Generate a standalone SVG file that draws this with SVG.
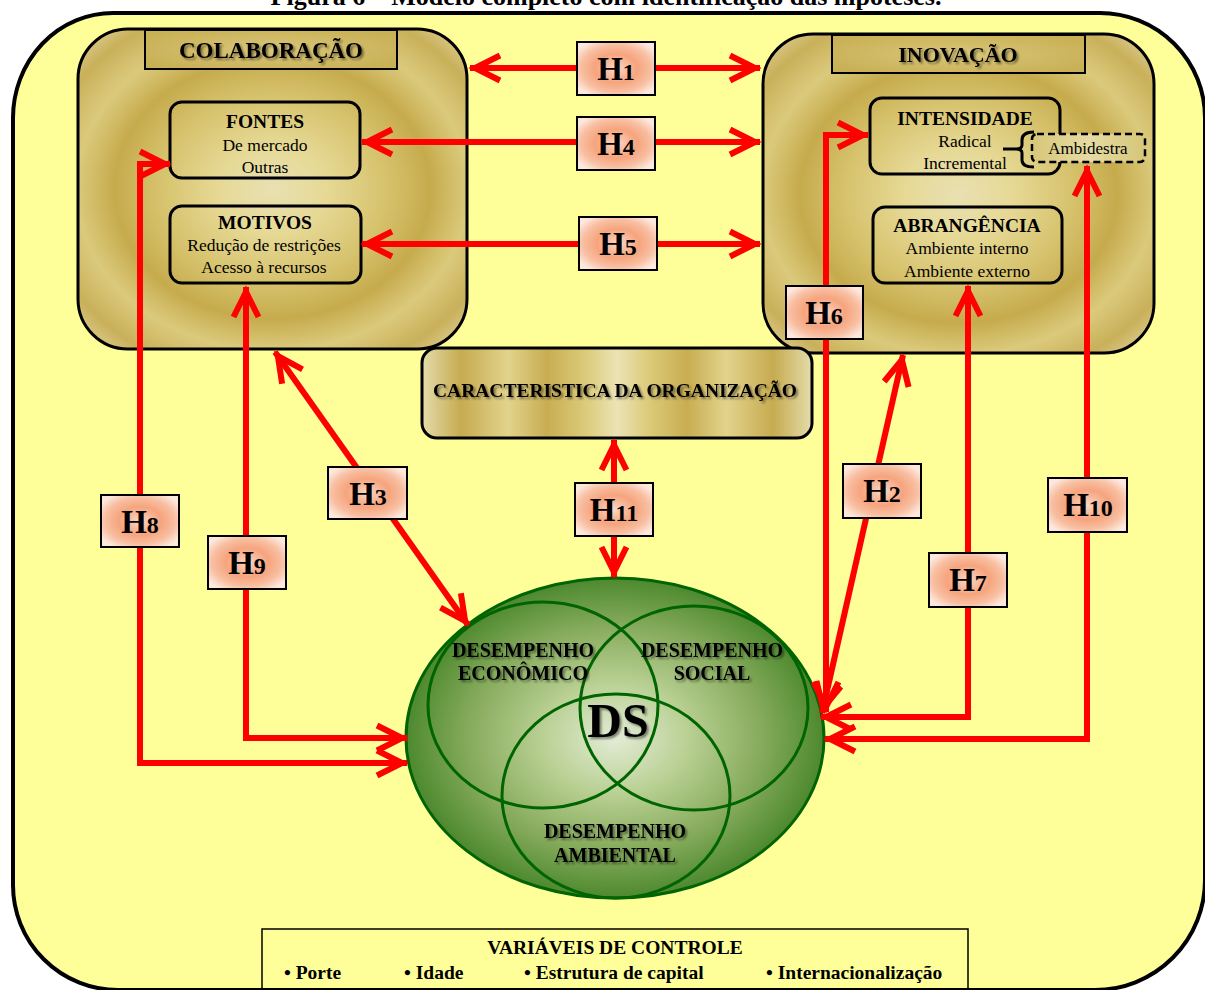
<svg xmlns="http://www.w3.org/2000/svg" width="1205" height="990" viewBox="0 0 1205 990">
<defs>
<style>
.t{font-family:'Liberation Serif','Times New Roman',serif;fill:#000;text-anchor:middle}
.b{font-weight:bold}
.sh{filter:url(#ts)}
.big{fill:url(#gold);stroke:#000;stroke-width:3}
.tab{fill:url(#tabg);stroke:#000;stroke-width:2}
.inner{fill:none;stroke:#000;stroke-width:3}
.conn{fill:none;stroke:#ff0000;stroke-width:6;marker-start:url(#ah);marker-end:url(#ah)}
.hl rect{fill:url(#hg);stroke:#000;stroke-width:2}
.hl text{font-family:'Liberation Serif','Times New Roman',serif;font-weight:bold;text-anchor:middle;fill:#000}
.venn{fill:none;stroke:#006400;stroke-width:3}
</style>
<filter id="ts" x="-10%" y="-40%" width="125%" height="190%">
<feDropShadow dx="2" dy="2" stdDeviation="1.3" flood-color="#000" flood-opacity="0.45"/>
</filter>
<radialGradient id="gold" cx="0.5" cy="0.5" r="0.7">
<stop offset="0" stop-color="#e9e0b2"/>
<stop offset="0.2" stop-color="#e6d995"/>
<stop offset="0.42" stop-color="#d6c26c"/>
<stop offset="0.58" stop-color="#c6ab4d"/>
<stop offset="0.72" stop-color="#dbca7c"/>
<stop offset="0.86" stop-color="#c9b05a"/>
<stop offset="1" stop-color="#e3d8a8"/>
</radialGradient>
<radialGradient id="tabg" cx="0.5" cy="0.5" r="0.6">
<stop offset="0" stop-color="#d9c67a"/>
<stop offset="1" stop-color="#c8b055"/>
</radialGradient>
<linearGradient id="carg" x1="0" y1="0" x2="1" y2="0">
<stop offset="0" stop-color="#e4dcab"/>
<stop offset="0.1" stop-color="#c6ab50"/>
<stop offset="0.22" stop-color="#e2d38c"/>
<stop offset="0.32" stop-color="#c8ad52"/>
<stop offset="0.42" stop-color="#dccb7a"/>
<stop offset="0.5" stop-color="#ebe3b5"/>
<stop offset="0.58" stop-color="#dccb7a"/>
<stop offset="0.68" stop-color="#c8ad52"/>
<stop offset="0.78" stop-color="#e2d38c"/>
<stop offset="0.9" stop-color="#c6ab50"/>
<stop offset="1" stop-color="#e4dcab"/>
</linearGradient>
<linearGradient id="ambg" x1="0" y1="0" x2="1" y2="0">
<stop offset="0" stop-color="#d6c678"/>
<stop offset="0.5" stop-color="#e6dba4"/>
<stop offset="1" stop-color="#d6c678"/>
</linearGradient>
<radialGradient id="green" cx="0.5" cy="0.5" r="0.5">
<stop offset="0" stop-color="#e3ecd6"/>
<stop offset="0.35" stop-color="#b9d093"/>
<stop offset="0.7" stop-color="#86ab5c"/>
<stop offset="1" stop-color="#4d892e"/>
</radialGradient>
<radialGradient id="hg" cx="0.5" cy="0.5" r="0.6">
<stop offset="0" stop-color="#fbd7c6"/>
<stop offset="0.45" stop-color="#f6a47d"/>
<stop offset="0.75" stop-color="#f8bfa2"/>
<stop offset="1" stop-color="#fde8de"/>
</radialGradient>
<marker id="ah" markerUnits="userSpaceOnUse" viewBox="-34 -18 40 36" refX="0" refY="0" markerWidth="40" markerHeight="36" orient="auto-start-reverse" overflow="visible">
<path d="M-30,-12.5 L-5,0 L-30,12.5" fill="none" stroke="#ff0000" stroke-width="6" stroke-linejoin="miter"/>
</marker>
</defs>

<text class="t b" x="606" y="5" font-size="26">Figura 6 – Modelo completo com identificação das hipóteses.</text>

<g id="fundo">
<path d="M113,13 H1100 A105,105 0 0 1 1205,118 V880 A110,110 0 0 1 1095,990 H118 A105,105 0 0 1 13,885 V118 A100,105 0 0 1 113,13 Z" fill="#ffff99" stroke="#000" stroke-width="4"/>
</g>

<g id="colaboracao">
<rect class="big" x="78" y="29" width="389" height="320" rx="50" ry="50"/>
<rect class="tab" x="145" y="30" width="252" height="39"/>
<text class="t b sh" x="271" y="58" font-size="23">COLABORAÇÃO</text>
</g>

<g id="fontes">
<rect class="inner" x="170" y="102" width="190" height="76" rx="12"/>
<text class="t b" x="265" y="128" font-size="19.5">FONTES</text>
<text class="t" x="265" y="151" font-size="17.5">De mercado</text>
<text class="t" x="265" y="173" font-size="17.5">Outras</text>
</g>

<g id="motivos">
<rect class="inner" x="170" y="206" width="191" height="77" rx="12"/>
<text class="t b" x="265" y="229" font-size="19.5">MOTIVOS</text>
<text class="t" x="264" y="251" font-size="17.5">Redução de restrições</text>
<text class="t" x="264" y="273" font-size="17.5">Acesso à recursos</text>
</g>

<g id="inovacao">
<rect class="big" x="763" y="34" width="391" height="319" rx="50" ry="50"/>
<rect class="tab" x="832" y="35" width="253" height="38"/>
<text class="t b sh" x="958" y="62" font-size="22">INOVAÇÃO</text>
</g>

<g id="intensidade">
<rect class="inner" x="870" y="98" width="190" height="76" rx="12"/>
<text class="t b" x="965" y="125" font-size="19.5">INTENSIDADE</text>
<text class="t" x="965" y="147" font-size="17.5">Radical</text>
<text class="t" x="965" y="169" font-size="17.5">Incremental</text>
</g>

<g id="ambidestra">
<rect x="1032" y="134" width="113" height="28" rx="5" fill="url(#ambg)" stroke="#000" stroke-width="2.5" stroke-dasharray="7 4"/>
<path d="M1003,149 H1016 M1034,132 Q1022,132 1022,140 L1022,145 Q1022,149 1016,149 Q1022,149 1022,153 L1022,160 Q1022,167 1034,167" fill="none" stroke="#000" stroke-width="3"/>
<text class="t" x="1088" y="154" font-size="17">Ambidestra</text>
</g>

<g id="abrangencia">
<rect class="inner" x="873" y="207" width="189" height="76" rx="12"/>
<text class="t b" x="967" y="232" font-size="19.5">ABRANGÊNCIA</text>
<text class="t" x="967" y="254" font-size="17.5">Ambiente interno</text>
<text class="t" x="967" y="277" font-size="17.5">Ambiente externo</text>
</g>

<g id="caracteristica">
<rect x="422" y="348" width="390" height="90" rx="15" fill="url(#carg)" stroke="#000" stroke-width="3"/>
<text class="t b sh" x="615" y="397" font-size="19.5">CARACTERISTICA DA ORGANIZAÇÃO</text>
</g>

<g id="ds">
<ellipse cx="615" cy="738" rx="209" ry="160" fill="url(#green)" stroke="#006400" stroke-width="3"/>
<ellipse class="venn" cx="543" cy="705" rx="115" ry="103"/>
<ellipse class="venn" cx="694" cy="708" rx="114" ry="102"/>
<ellipse class="venn" cx="616" cy="796" rx="114" ry="102"/>
<text class="t b sh" x="523" y="657" font-size="20">DESEMPENHO</text>
<text class="t b sh" x="523" y="680" font-size="20">ECONÔMICO</text>
<text class="t b sh" x="712" y="657" font-size="20">DESEMPENHO</text>
<text class="t b sh" x="712" y="680" font-size="20">SOCIAL</text>
<text class="t b sh" x="618" y="737" font-size="48">DS</text>
<text class="t b sh" x="615" y="838" font-size="20">DESEMPENHO</text>
<text class="t b sh" x="615" y="862" font-size="20">AMBIENTAL</text>
</g>

<g id="controle">
<rect x="262" y="929" width="706" height="70" fill="none" stroke="#000" stroke-width="1.5"/>
<text class="t b" x="615" y="954" font-size="19.5">VARIÁVEIS DE CONTROLE</text>
<text class="t b" x="284" y="979" font-size="19.5" text-anchor="start" style="text-anchor:start">• Porte</text>
<text class="t b" x="404" y="979" font-size="19.5" style="text-anchor:start">• Idade</text>
<text class="t b" x="524" y="979" font-size="19.5" style="text-anchor:start">• Estrutura de capital</text>
<text class="t b" x="766" y="979" font-size="19.5" style="text-anchor:start">• Internacionalização</text>
</g>

<g id="connectors">
<path class="conn" d="M470,68 H760"/>
<path class="conn" d="M362,142 H760"/>
<path class="conn" d="M362,244 H760"/>
<path class="conn" d="M275,352 L468,625"/>
<path class="conn" d="M903,355 L822,713"/>
<path class="conn" d="M614,440 V577"/>
<path class="conn" d="M170,164 H140 V763 H407"/>
<path class="conn" d="M246,287 V738 H407"/>
<path class="conn" d="M868,135 H826 V712"/>
<path class="conn" d="M968,286 V717 H821"/>
<path class="conn" d="M1087,166 V739 H825"/>
</g>

<g id="labels">
<g class="hl" id="h1"><rect x="577" y="42" width="78" height="53"/><text x="616" y="80"><tspan font-size="33">H</tspan><tspan font-size="24">1</tspan></text></g>
<g class="hl" id="h4"><rect x="577" y="117" width="78" height="53"/><text x="616" y="155"><tspan font-size="33">H</tspan><tspan font-size="24">4</tspan></text></g>
<g class="hl" id="h5"><rect x="579" y="217" width="78" height="53"/><text x="618" y="255"><tspan font-size="33">H</tspan><tspan font-size="24">5</tspan></text></g>
<g class="hl" id="h6"><rect x="786" y="286" width="77" height="53"/><text x="824" y="324"><tspan font-size="33">H</tspan><tspan font-size="24">6</tspan></text></g>
<g class="hl" id="h2"><rect x="843" y="464" width="78" height="54"/><text x="882" y="502"><tspan font-size="33">H</tspan><tspan font-size="24">2</tspan></text></g>
<g class="hl" id="h7"><rect x="929" y="553" width="78" height="54"/><text x="968" y="591"><tspan font-size="33">H</tspan><tspan font-size="24">7</tspan></text></g>
<g class="hl" id="h10"><rect x="1048" y="478" width="79" height="54"/><text x="1088" y="516"><tspan font-size="33">H</tspan><tspan font-size="24">10</tspan></text></g>
<g class="hl" id="h8"><rect x="101" y="495" width="78" height="52"/><text x="140" y="533"><tspan font-size="33">H</tspan><tspan font-size="24">8</tspan></text></g>
<g class="hl" id="h9"><rect x="208" y="536" width="78" height="53"/><text x="247" y="574"><tspan font-size="33">H</tspan><tspan font-size="24">9</tspan></text></g>
<g class="hl" id="h3"><rect x="328" y="467" width="79" height="52"/><text x="368" y="505"><tspan font-size="33">H</tspan><tspan font-size="24">3</tspan></text></g>
<g class="hl" id="h11"><rect x="575" y="483" width="78" height="53"/><text x="614" y="521"><tspan font-size="33">H</tspan><tspan font-size="24">11</tspan></text></g>
</g>
</svg>
